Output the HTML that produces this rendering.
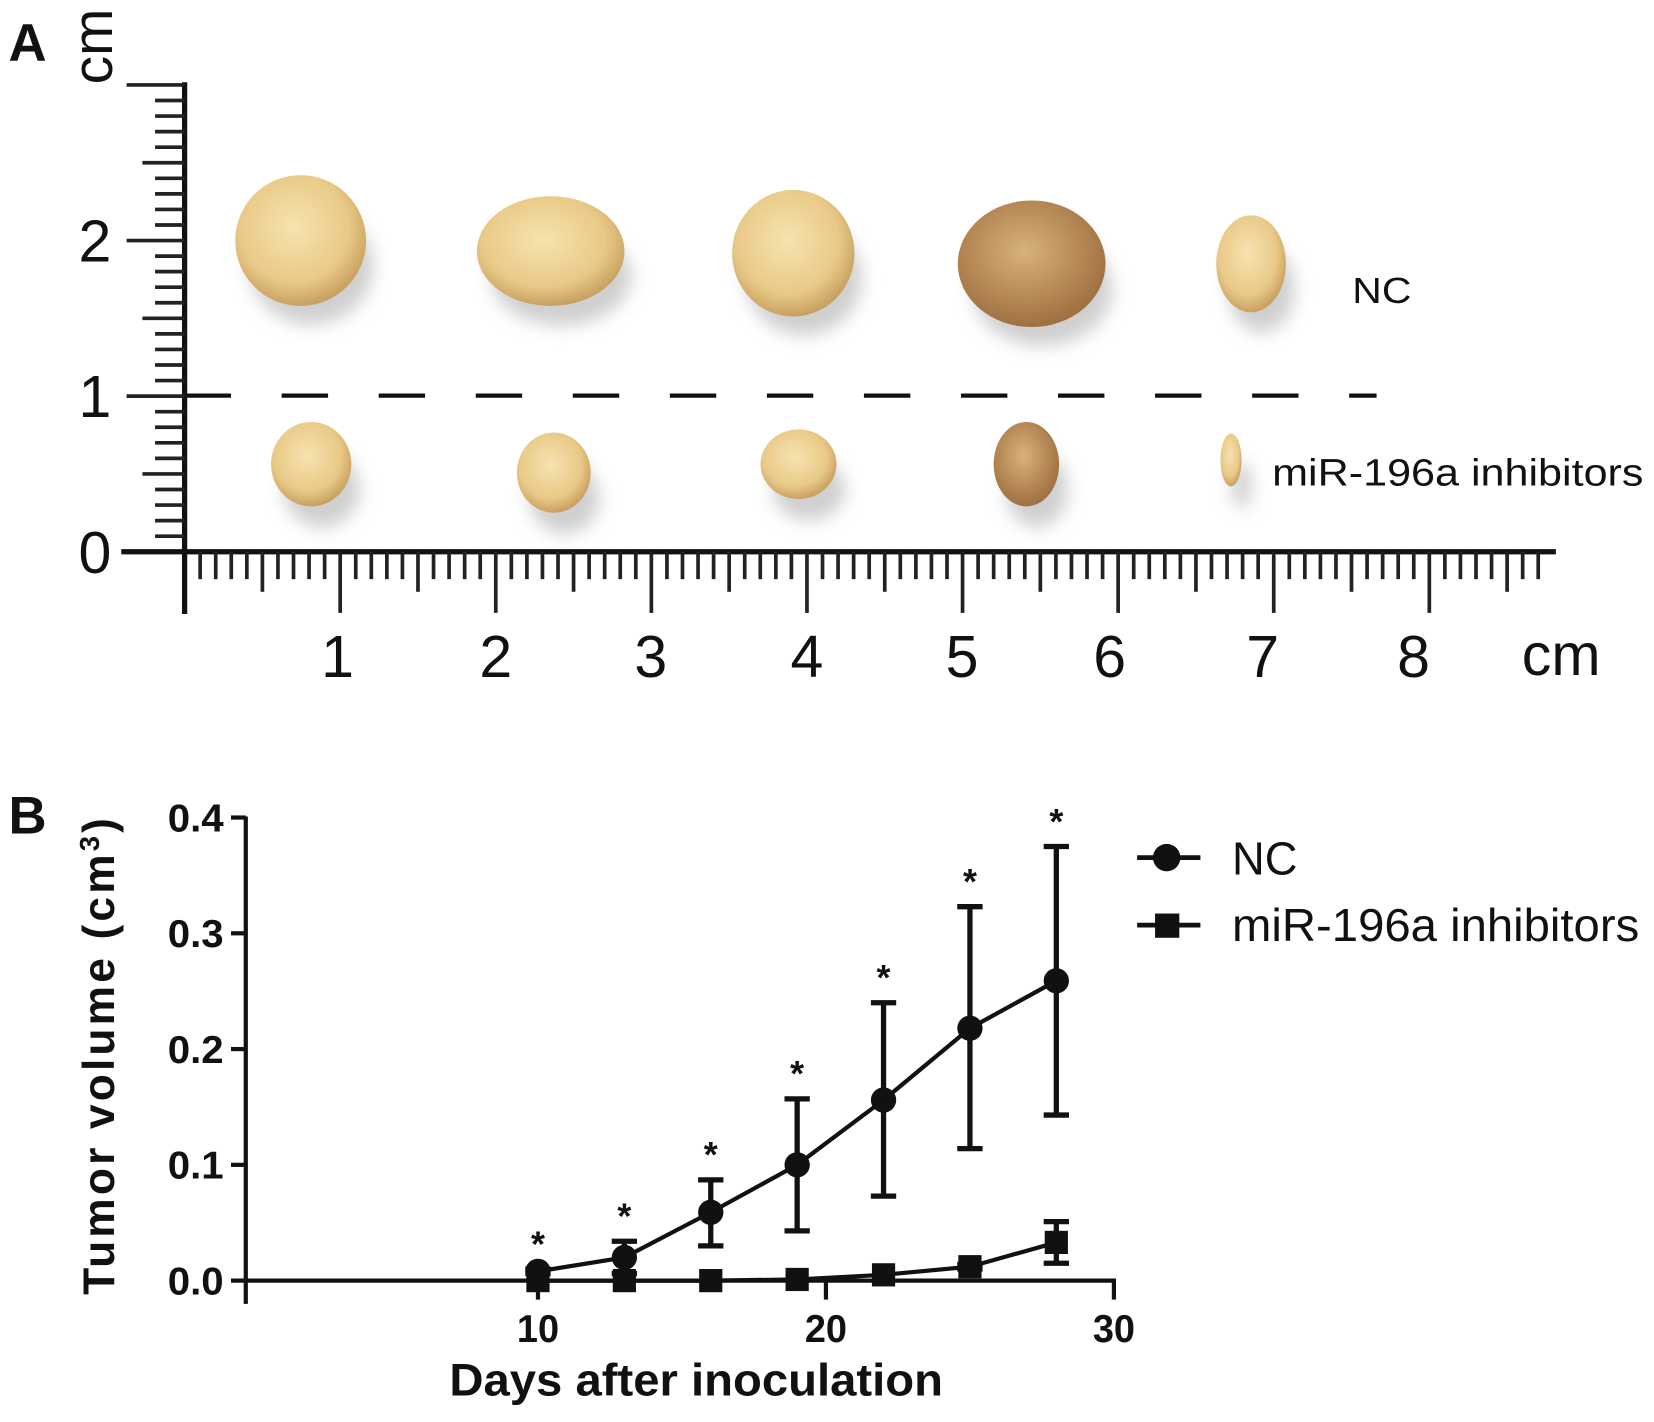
<!DOCTYPE html>
<html><head><meta charset="utf-8"><style>
html,body{margin:0;padding:0;background:#fff;}
svg{display:block;}
text{font-family:"Liberation Sans",sans-serif;fill:#111;}
</style></head><body>
<svg id="fig" width="1654" height="1422" viewBox="0 0 1568 1348" xmlns="http://www.w3.org/2000/svg">
<defs>
<radialGradient id="tum" cx="45%" cy="40%" r="60%"><stop offset="0" stop-color="#f6e3b0"/><stop offset="0.7" stop-color="#e9c987"/><stop offset="1" stop-color="#c9a060"/></radialGradient>
<radialGradient id="tumd" cx="45%" cy="40%" r="60%"><stop offset="0" stop-color="#d9b27a"/><stop offset="1" stop-color="#a07040"/></radialGradient>
<filter id="blur" x="-100%" y="-100%" width="300%" height="300%"><feGaussianBlur stdDeviation="8"/></filter>
</defs>
<!-- Panel A -->
<text x="8" y="58" font-size="50" font-weight="bold">A</text>
<g id="rulerA"></g>
<g id="tumors"></g>
<line x1="175" y1="375" x2="1305" y2="375" stroke="#111" stroke-width="4" stroke-dasharray="44,48"/>
<text x="1282" y="287" font-size="34" textLength="56" lengthAdjust="spacingAndGlyphs">NC</text>
<text x="1206" y="460" font-size="36" textLength="352" lengthAdjust="spacingAndGlyphs">miR-196a inhibitors</text>
<!-- Panel B -->
<text x="8" y="790" font-size="50" font-weight="bold">B</text>
<g id="chart"></g>
</svg>
<script>
const NS="http://www.w3.org/2000/svg";
function mk(tag,attrs,parent,txt){const e=document.createElementNS(NS,tag);for(const k in attrs)e.setAttribute(k,attrs[k]);if(txt!==undefined)e.textContent=txt;parent.appendChild(e);return e;}

/* ---------- Ruler (panel A) ---------- */
const R=document.getElementById('rulerA');
const vx=175, y0=523, cmY=147.5;
mk('line',{x1:vx,y1:78,x2:vx,y2:582,stroke:'#111','stroke-width':5},R);
mk('line',{x1:115,y1:y0,x2:1475,y2:y0,stroke:'#111','stroke-width':5},R);
for(let i=1;i<=30;i++){const y=y0-i*cmY/10;const len=i%10==0?55:(i%5==0?40:28);
 mk('line',{x1:vx-len,y1:y,x2:vx,y2:y,stroke:'#222','stroke-width':3.5},R);}
const yLab=['0','1','2'];
yLab.forEach((l,i)=>{const t=mk('text',{x:90,y:y0-i*cmY+20,'font-size':56,'text-anchor':'middle'},R,l);

});
const cmv=mk('text',{x:0,y:0,'font-size':54,transform:'translate(106,80) rotate(-90)'},R,'cm');


const mm=14.75;
for(let i=1;i*mm+vx<1470;i++){const x=vx+i*mm;const len=i%10==0?58:(i%5==0?38:26);
 mk('line',{x1:x,y1:y0,x2:x,y2:y0+len,stroke:'#222','stroke-width':3.5},R);}
const xLabX=[320,470,617,765,912,1052,1197,1340];
const xLab=['1','2','3','4','5','6','7','8'];
xLab.forEach((l,i)=>{const t=mk('text',{x:xLabX[i],y:642,'font-size':56,'text-anchor':'middle'},R,l);

});
const cmh=mk('text',{x:1480,y:640,'font-size':56,'text-anchor':'middle'},R,'cm');



/* ---------- Tumors ---------- */
const T=document.getElementById('tumors');
const tums=[[285,228,62,62,0],[522,238,70,52,0],[752,240,58,60,0],[978,250,70,60,1],[1186,250,33,46,0],
[295,440,38,40,0],[525,448,35,38,0],[757,440,36,33,0],[973,440,31,40,1],[1167,436,10,25,0]];
tums.forEach(t=>{mk('ellipse',{cx:t[0]+10,cy:t[1]+24,rx:t[2]*0.95,ry:t[3]*0.9,fill:'#bbb',opacity:0.7,filter:'url(#blur)'},T);
const e=mk('ellipse',{cx:t[0],cy:t[1],rx:t[2],ry:t[3],fill:t[4]?'url(#tumd)':'url(#tum)'},T);

});

/* ---------- Chart (panel B) ---------- */
const days=[10,13,16,19,22,25,28];
const ncMean=[0.008,0.020,0.059,0.100,0.156,0.218,0.259];
const ncUpper=[0.010,0.034,0.087,0.157,0.240,0.323,0.375];
const ncLower=[0.006,0.006,0.030,0.043,0.073,0.114,0.143];
const inhMean=[0,0,0,0.001,0.005,0.012,0.033];
const inhUpper=[0,0,0,0.001,0.005,0.014,0.051];
const inhLower=[0,0,0,0.001,0.005,0.010,0.015];
const yTicks=[0,0.1,0.2,0.3,0.4];
const yTickLabels=['0.0','0.1','0.2','0.3','0.4'];
const xTicks=[10,20,30];
const xTickLabels=['10','20','30'];

const C=document.getElementById('chart');
const X=d=>237+d*27.3, Y=v=>1214-v*1097.5;
mk('line',{x1:233,y1:774,x2:233,y2:1236,stroke:'#111','stroke-width':4},C);
mk('line',{x1:232,y1:1214,x2:1058,y2:1214,stroke:'#111','stroke-width':4},C);
yTicks.forEach((v,i)=>{mk('line',{x1:219,y1:Y(v),x2:233,y2:Y(v),stroke:'#111','stroke-width':4},C);
const t=mk('text',{x:212,y:Y(v)+13,'font-size':37,'font-weight':'bold','text-anchor':'end',textLength:53,lengthAdjust:'spacingAndGlyphs'},C,yTickLabels[i]);

});
xTicks.forEach((v,i)=>{mk('line',{x1:X(v),y1:1214,x2:X(v),y2:1232,stroke:'#111','stroke-width':4},C);
const t=mk('text',{x:X(v),y:1272,'font-size':37,'font-weight':'bold','text-anchor':'middle',textLength:40,lengthAdjust:'spacingAndGlyphs'},C,xTickLabels[i]);

});
const xt=mk('text',{x:660,y:1323,'font-size':43,'font-weight':'bold','text-anchor':'middle',textLength:468,lengthAdjust:'spacingAndGlyphs'},C,'Days after inoculation');


const yt=mk('text',{x:0,y:0,'font-size':42,'font-weight':'bold','text-anchor':'middle',transform:'translate(108,1000) rotate(-90)','letter-spacing':'3'},C);


mk('tspan',{},yt,'Tumor volume (cm');mk('tspan',{'font-size':26,dy:-14},yt,'3');mk('tspan',{dy:14},yt,')');

function series(mean,up,lo,shape,name){
 const g=mk('g',{},C);
 
 
 mk('polyline',{points:days.map((d,i)=>X(d)+','+Y(mean[i])).join(' '),fill:'none',stroke:'#111','stroke-width':4},g);
 days.forEach((d,i)=>{
  if(up[i]-lo[i]>0.002){
   mk('line',{x1:X(d),y1:Y(up[i]),x2:X(d),y2:Y(lo[i]),stroke:'#111','stroke-width':5},g);
   mk('line',{x1:X(d)-12,y1:Y(up[i]),x2:X(d)+12,y2:Y(up[i]),stroke:'#111','stroke-width':5},g);
   mk('line',{x1:X(d)-12,y1:Y(lo[i]),x2:X(d)+12,y2:Y(lo[i]),stroke:'#111','stroke-width':5},g);}
  let m;
  if(shape==='c')m=mk('circle',{cx:X(d),cy:Y(mean[i]),r:12,fill:'#111'},g);
  else m=mk('rect',{x:X(d)-11,y:Y(mean[i])-11,width:22,height:22,fill:'#111'},g);
  
  
 });
}
series(inhMean,inhUpper,inhLower,'s','inhibitor-series');
series(ncMean,ncUpper,ncLower,'c','nc-series');
days.forEach((d,i)=>{const s=mk('text',{x:X(d),y:Y(ncUpper[i])-12,'font-size':34,'font-weight':'bold','text-anchor':'middle'},C,'*');

});

/* legend */
const L=mk('g',{},C);


mk('line',{x1:1078,y1:813,x2:1138,y2:813,stroke:'#111','stroke-width':4.5},L);
mk('circle',{cx:1106,cy:813,r:13,fill:'#111'},L);
const l1=mk('text',{x:1168,y:829,'font-size':44,textLength:62,lengthAdjust:'spacingAndGlyphs'},L,'NC');


mk('line',{x1:1078,y1:877,x2:1138,y2:877,stroke:'#111','stroke-width':4.5},L);
mk('rect',{x:1095,y:866,width:23,height:23,fill:'#111'},L);
const l2=mk('text',{x:1168,y:892,'font-size':44,textLength:386,lengthAdjust:'spacingAndGlyphs'},L,'miR-196a inhibitors');


</script>
</body></html>
